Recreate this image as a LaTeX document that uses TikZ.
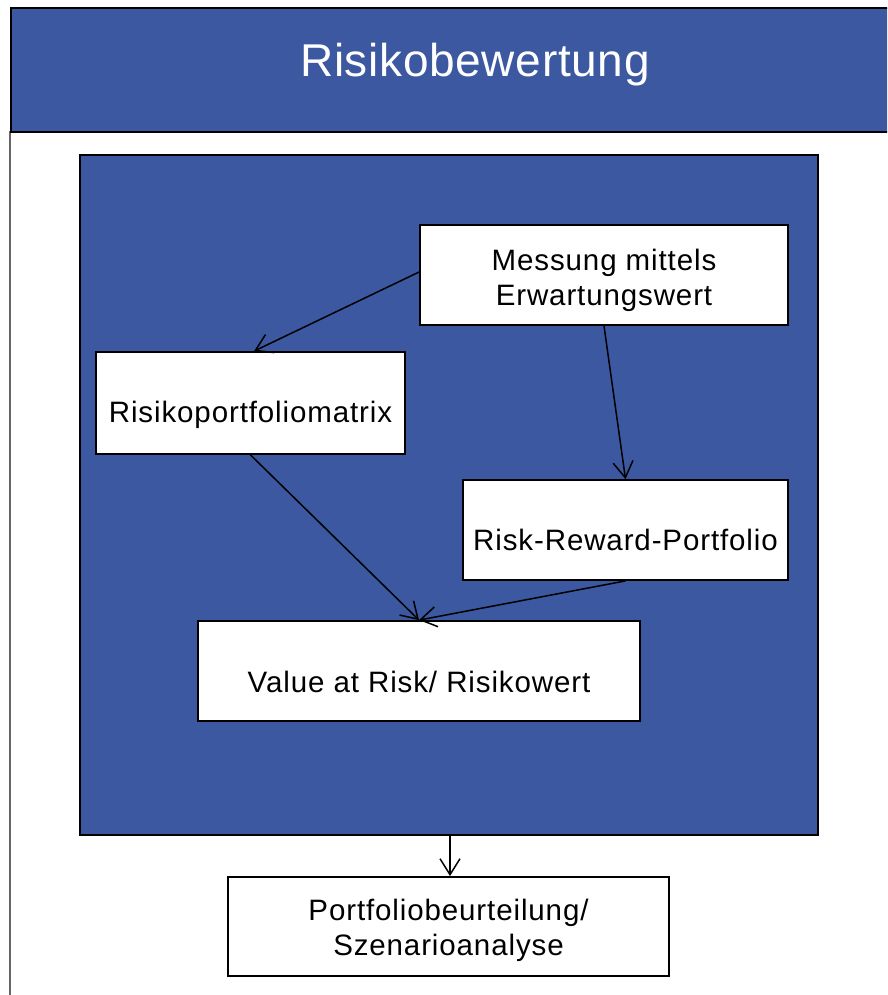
\documentclass[tikz,border=0pt]{standalone}
\usepackage{fontspec}
\setmainfont{Liberation Sans}[LetterSpace=3]
\newfontfamily\titlefont{Liberation Sans}[LetterSpace=1.5]
\usetikzlibrary{arrows.meta}
\definecolor{pptblue}{RGB}{60,88,160}
\newcommand{\lowtext}[2]{\raisebox{#1}[0pt][0pt]{\begin{tabular}[t]{@{}c@{}}#2\end{tabular}}}
\begin{document}
\begin{tikzpicture}[x=1pt,y=-1pt,
  boxstyle/.style={draw=black,line width=1.8pt,fill=white,inner sep=0pt,
    font=\fontsize{29.5}{35}\selectfont},
  arr/.style={draw=black,line width=1.5pt,-{Straight Barb[length=16pt,width=20pt,line width=1.5pt]}}]
\useasboundingbox (0,0) rectangle (887,995);
\clip (0,0) rectangle (887,995);
\fill[white] (0,0) rectangle (887,995);
% outer frame
\draw[line width=1.2pt,black!60] (10,131) -- (10,1000);
\node[draw=black,line width=2pt,fill=pptblue,minimum width=900pt,minimum height=124pt,inner sep=0pt,anchor=north west] (head) at (10,7) {};
\node[text=white,font=\titlefont\fontsize{46}{50}\selectfont,inner sep=0pt,anchor=base] (title) at (475,77) {Risikobewertung};
% inner blue area
\node[draw=black,line width=1.8pt,fill=pptblue,minimum width=738pt,minimum height=680pt,inner sep=0pt] (inner) at (449,495) {};
% boxes
\node[boxstyle,minimum width=368pt,minimum height=100pt] (mess) at (604,275) {\lowtext{5pt}{Messung mittels\\Erwartungswert}};
\node[boxstyle,minimum width=309pt,minimum height=102pt] (rpm) at (250.5,403) {\lowtext{-19pt}{Risikoportfoliomatrix}};
\node[boxstyle,minimum width=325pt,minimum height=100pt] (rrp) at (625.5,530) {\lowtext{-20pt}{Risk-Reward-Portfolio}};
\node[boxstyle,minimum width=442pt,minimum height=100pt] (var) at (419,671) {\lowtext{-21pt}{Value at Risk/ Risikowert}};
\node[boxstyle,minimum width=441pt,minimum height=99pt] (pfb) at (448.5,926.5) {\lowtext{6.5pt}{Portfoliobeurteilung/\\Szenarioanalyse}};
% connectors
\draw[arr] ([yshift=3pt]mess.west) -- ([xshift=159pt]rpm.north west);
\draw[arr] (mess.south) -- (rrp.north);
\draw[arr] (rpm.south) -- (var.north);
\draw[arr] (rrp.south) -- (var.north);
\draw[arr] ([xshift=1pt]inner.south) -- ([xshift=1.5pt]pfb.north);
\end{tikzpicture}
\end{document}
